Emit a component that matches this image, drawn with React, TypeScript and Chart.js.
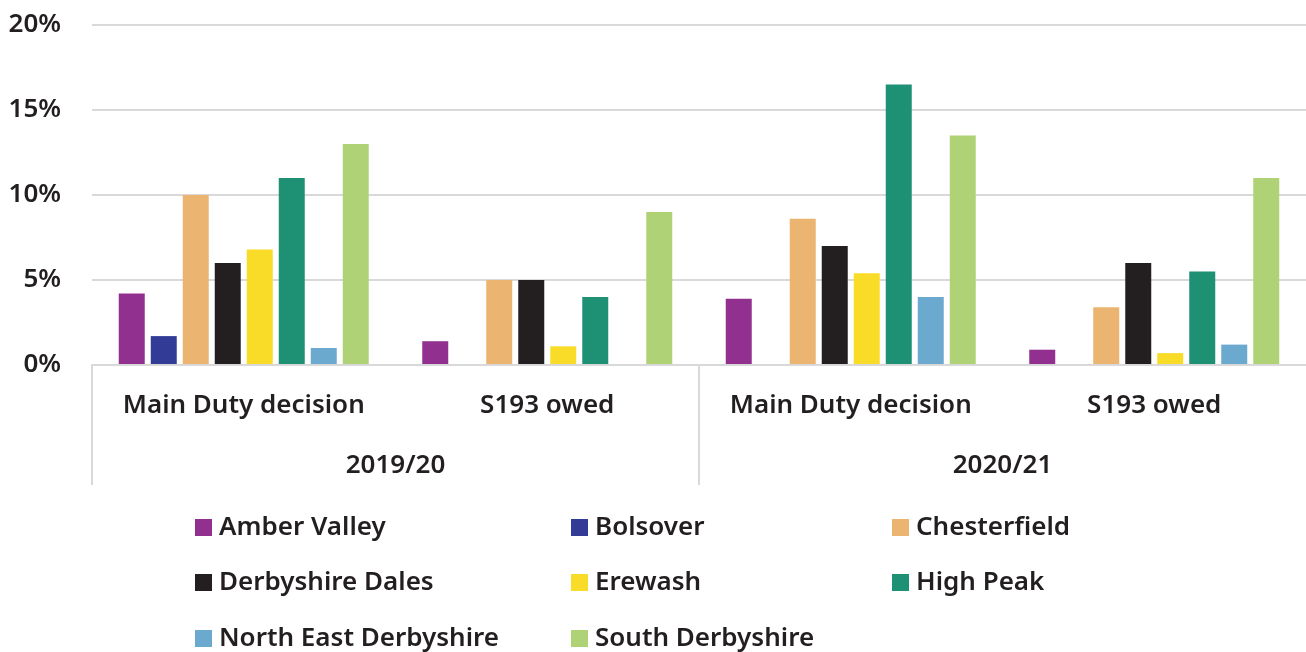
import React, { useEffect, useRef } from "react";
import { Chart, registerables } from "chart.js";

Chart.register(...registerables);

const categories = ["Main Duty decision", "S193 owed", "Main Duty decision", "S193 owed"];
const years = ["2019/20", "2020/21"];
const yTicks = [0, 5, 10, 15, 20];

const seriesNames = [
  "Amber Valley",
  "Bolsover",
  "Chesterfield",
  "Derbyshire Dales",
  "Erewash",
  "High Peak",
  "North East Derbyshire",
  "South Derbyshire",
];
const seriesColors = ["#92308f", "#323c96", "#ebb470", "#231f20", "#f8dc27", "#1e9074", "#6ca9cf", "#b0d276"];

const amberValley = [4.2, 1.4, 3.9, 0.9];
const bolsover = [1.7, 0, 0, 0];
const chesterfield = [10, 5, 8.6, 3.4];
const derbyshireDales = [6, 5, 7, 6];
const erewash = [6.8, 1.1, 5.4, 0.7];
const highPeak = [11, 4, 16.5, 5.5];
const northEastDerbyshire = [1, 0, 4, 1.2];
const southDerbyshire = [13, 9, 13.5, 11];

const seriesValues = [amberValley, bolsover, chesterfield, derbyshireDales, erewash, highPeak, northEastDerbyshire, southDerbyshire];

const TEXT = "#231f20";
const GRID = "#d9d9d9";
const FONT_FAMILY = '"Noto Sans", sans-serif';
const WEIGHT = "600";

const groupPlugin = {
  id: "groupLabels",
  afterDraw(chart: any) {
    const { ctx, chartArea } = chart;
    const x = chart.scales.x;
    const base = chartArea.bottom;
    ctx.save();
    ctx.strokeStyle = GRID;
    ctx.lineWidth = 2;
    const dividers = [x.left, (x.getPixelForValue(1) + x.getPixelForValue(2)) / 2];
    dividers.forEach((dx) => {
      ctx.beginPath();
      ctx.moveTo(dx, base);
      ctx.lineTo(dx, base + 120);
      ctx.stroke();
    });
    ctx.fillStyle = TEXT;
    ctx.font = `${WEIGHT} 26px ${FONT_FAMILY}`;
    ctx.textAlign = "center";
    ctx.textBaseline = "middle";
    years.forEach((yr, i) => {
      const cx = (x.getPixelForValue(i * 2) + x.getPixelForValue(i * 2 + 1)) / 2;
      ctx.fillText(yr, cx, base + 101);
    });
    const colX = [195, 571, 892];
    const rowY = [527.5, 582.5, 638.5];
    ctx.textAlign = "left";
    seriesNames.forEach((name, i) => {
      const col = i % 3;
      const row = Math.floor(i / 3);
      const lx = colX[col];
      const ly = rowY[row];
      ctx.fillStyle = seriesColors[i];
      ctx.fillRect(lx, ly - 8.5, 17, 17);
      ctx.fillStyle = TEXT;
      ctx.fillText(name, lx + 24, ly);
    });
    ctx.restore();
  },
};

export default function App() {
  const ref = useRef<HTMLCanvasElement>(null);
  useEffect(() => {
    document.body.style.margin = "0";
    const chart = new Chart(ref.current!, {
      type: "bar",
      data: {
        labels: categories,
        datasets: seriesNames.map((name, i) => ({
          label: name,
          data: seriesValues[i],
          backgroundColor: seriesColors[i],
          borderWidth: 0,
          categoryPercentage: 0.8435,
          barPercentage: 0.8125,
        })),
      },
      options: {
        animation: false,
        responsive: false,
        devicePixelRatio: 1,
        layout: { padding: { top: 25, right: 0, bottom: 0, left: 0 } },
        plugins: { legend: { display: false }, tooltip: { enabled: false } },
        scales: {
          x: {
            grid: { display: false },
            border: { display: true, color: GRID, width: 2 },
            ticks: {
              color: TEXT,
              font: { family: FONT_FAMILY, size: 26, weight: WEIGHT as any },
              padding: 17,
              maxRotation: 0,
              autoSkip: false,
            },
            afterFit(scale: any) {
              scale.height = 287;
              scale.paddingLeft = 0;
              scale.paddingRight = 0;
            },
          },
          y: {
            min: 0,
            max: 20,
            afterBuildTicks(scale: any) {
              scale.ticks = yTicks.map((v) => ({ value: v }));
            },
            grid: { color: GRID, lineWidth: 2, drawTicks: false },
            border: { display: false },
            ticks: {
              color: TEXT,
              font: { family: FONT_FAMILY, size: 26, weight: WEIGHT as any },
              padding: 31,
              callback: (v: any) => `${v}%`,
            },
            afterFit(scale: any) {
              scale.width = 92;
              scale.paddingTop = 0;
              scale.paddingBottom = 0;
            },
          },
        },
      },
      plugins: [groupPlugin],
    });
    return () => chart.destroy();
  }, []);
  return (
    <div style={{ width: 1306, height: 652 }}>
      <canvas ref={ref} width={1306} height={652} />
    </div>
  );
}
